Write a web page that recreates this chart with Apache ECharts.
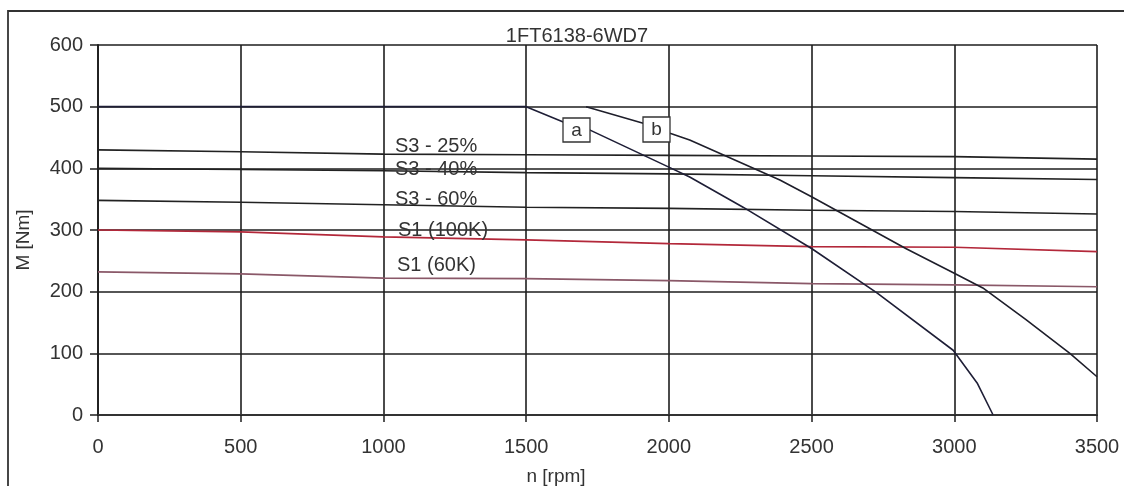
<!DOCTYPE html>
<html>
<head>
<meta charset="utf-8">
<script src="https://cdn.jsdelivr.net/npm/echarts@6/dist/echarts.min.js"></script>
<style>
  html, body { margin: 0; padding: 0; background: #fff; }
  #chart { width: 1124px; height: 486px; }
</style>
</head>
<body>
<div id="chart"></div>
<script>
// speeds [rpm] where the flat duty curves were read
const speeds = [0, 500, 1000, 1500, 2000, 2500, 3000, 3500];
const s3_25 = [430, 427, 423, 422, 421, 420, 419, 415];
const s3_40 = [400, 398, 396, 393, 391, 388, 385, 382];
const s3_60 = [348, 345, 341, 337, 335, 332, 330, 326];
const s1_100k = [300, 297, 289, 284, 278, 273, 272, 265];
const s1_60k = [232, 229, 222, 221, 218, 213, 211, 208];

// limit curves a and b
const aSpeed = [0, 1500, 1630, 1724, 2000, 2073, 2260, 2500, 2729, 2996, 3080, 3136];
const aTorque = [500, 500, 475, 462, 402, 386, 337, 270, 198, 105, 52, 0];
const bSpeed = [1710, 1910, 2004, 2073, 2389, 2500, 2830, 3000, 3100, 3250, 3405, 3500];
const bTorque = [500, 473, 457, 446, 381, 354, 270, 230, 206, 155, 100, 62];

const xTicks = [0, 3500, 500];
const yTicks = [0, 600, 100];

function pairs(xs, ys) {
  return xs.map(function (x, i) { return [x, ys[i]]; });
}

const font = 'Liberation Sans, Arial, sans-serif';
const gridColor = '#1e1e1e';

function lineSeries(name, xs, ys, color, width) {
  return {
    name: name,
    type: 'line',
    data: pairs(xs, ys),
    symbol: 'none',
    smooth: false,
    lineStyle: { color: color, width: width || 1.6 }
  };
}

const chart = echarts.init(document.getElementById('chart'));
chart.setOption({
  animation: false,
  backgroundColor: '#fff',
  grid: { left: 98, right: 27, top: 45, bottom: 71 },
  xAxis: {
    type: 'value',
    min: xTicks[0], max: xTicks[1], interval: xTicks[2],
    axisLine: { show: true, lineStyle: { color: '#333', width: 2.2 } },
    axisTick: { show: true, length: 7, lineStyle: { color: gridColor, width: 1.5 } },
    axisLabel: { margin: 22, color: '#333', fontSize: 20, fontFamily: font,
      formatter: function (v) { return String(v); } },
    splitLine: { show: true, lineStyle: { color: gridColor, width: 1.6 } }
  },
  yAxis: {
    type: 'value',
    min: yTicks[0], max: yTicks[1], interval: yTicks[2],
    axisLine: { show: true, lineStyle: { color: gridColor, width: 1.8 } },
    axisTick: { show: true, length: 8, lineStyle: { color: gridColor, width: 1.5 } },
    axisLabel: { margin: 15, color: '#333', fontSize: 20, fontFamily: font },
    splitLine: { show: true, lineStyle: { color: gridColor, width: 1.6 } }
  },
  series: [
    lineSeries('S3 - 25%', speeds, s3_25, '#222'),
    lineSeries('S3 - 40%', speeds, s3_40, '#222'),
    lineSeries('S3 - 60%', speeds, s3_60, '#222'),
    lineSeries('S1 (100K)', speeds, s1_100k, '#b3283a', 1.7),
    lineSeries('S1 (60K)', speeds, s1_60k, '#8a5868', 1.7),
    lineSeries('a', aSpeed, aTorque, '#1e1e36', 1.6),
    lineSeries('b', bSpeed, bTorque, '#1e1e2a', 1.6)
  ],
  graphic: [
    // outer frame, right and bottom edges lie outside the picture
    { type: 'rect', silent: true, z: 0,
      shape: { x: 8, y: 11, width: 1300, height: 600 },
      style: { fill: 'none', stroke: '#333', lineWidth: 1.8 } },
    { type: 'text', x: 577, y: 36, z: 10,
      style: { text: '1FT6138-6WD7', font: '20px ' + font, fill: '#333', align: 'center', verticalAlign: 'middle' } },
    { type: 'text', x: 556, y: 477, z: 10,
      style: { text: 'n [rpm]', font: '19px ' + font, fill: '#333', align: 'center', verticalAlign: 'middle' } },
    { type: 'text', x: 24, y: 240, rotation: Math.PI / 2, z: 10,
      style: { text: 'M [Nm]', font: '19px ' + font, fill: '#333', align: 'center', verticalAlign: 'middle' } },
    { type: 'text', x: 395, y: 146, z: 10,
      style: { text: 'S3 - 25%', font: '20px ' + font, fill: '#333', verticalAlign: 'middle' } },
    { type: 'text', x: 395, y: 169, z: 10,
      style: { text: 'S3 - 40%', font: '20px ' + font, fill: '#333', verticalAlign: 'middle' } },
    { type: 'text', x: 395, y: 199, z: 10,
      style: { text: 'S3 - 60%', font: '20px ' + font, fill: '#333', verticalAlign: 'middle' } },
    { type: 'text', x: 398, y: 230, z: 10,
      style: { text: 'S1 (100K)', font: '20px ' + font, fill: '#333', verticalAlign: 'middle' } },
    { type: 'text', x: 397, y: 265, z: 10,
      style: { text: 'S1 (60K)', font: '20px ' + font, fill: '#333', verticalAlign: 'middle' } },
    { type: 'rect', z: 10, shape: { x: 563, y: 118, width: 27, height: 24 },
      style: { fill: '#fff', stroke: '#333', lineWidth: 1.3 } },
    { type: 'text', x: 576.5, y: 131, z: 11,
      style: { text: 'a', font: '19px ' + font, fill: '#333', align: 'center', verticalAlign: 'middle' } },
    { type: 'rect', z: 10, shape: { x: 643, y: 117, width: 27, height: 25 },
      style: { fill: '#fff', stroke: '#333', lineWidth: 1.3 } },
    { type: 'text', x: 656.5, y: 130, z: 11,
      style: { text: 'b', font: '19px ' + font, fill: '#333', align: 'center', verticalAlign: 'middle' } }
  ]
});
</script>
</body>
</html>
